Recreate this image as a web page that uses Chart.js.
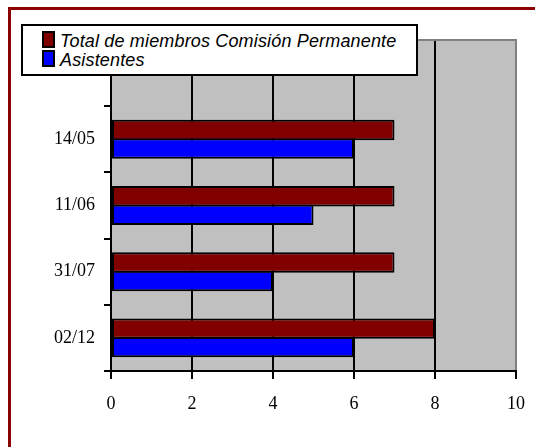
<!DOCTYPE html>
<html>
<head>
<meta charset="utf-8">
<script src="https://cdn.jsdelivr.net/npm/chart.js@4"></script>
<style>
  html, body { margin: 0; padding: 0; background: #fff; overflow: hidden; }
  #wrap { position: relative; width: 535px; height: 447px; }
  #frame { position: absolute; left: 8px; top: 7px; width: 600px; height: 500px;
           border-top: 3px solid #8b0000; border-left: 3px solid #8b0000; }
  #chartCanvas { position: absolute; left: 0; top: 0; }
  #legend { position: absolute; left: 21px; top: 24px; width: 397px; height: 52px;
            box-sizing: border-box; border: 2px solid #000; background: #fff;
            font: italic 18px "Liberation Sans", Arial, sans-serif; color: #000; letter-spacing: 0.16px; }
  .sw { position: absolute; left: 19px; width: 13px; height: 17px; box-sizing: border-box; border: 2px solid #000; }
  .lb { position: absolute; left: 37px; line-height: 18px; white-space: nowrap; }
</style>
</head>
<body>
<div id="wrap">
  <div id="frame"></div>
  <canvas id="chartCanvas" width="535" height="447"></canvas>
  <div id="legend"></div>
</div>
<script>
const categories = ['', '14/05', '11/06', '31/07', '02/12'];
const totalMiembros = [null, 7, 7, 7, 8];
const asistentes = [null, 6, 5, 4, 6];
const seriesNames = ['Total de miembros Comisión Permanente', 'Asistentes'];
const seriesColors = ['#800000', '#0000ff'];
const xTicks = [0, 2, 4, 6, 8, 10];

const serif = { family: '"Liberation Serif", "Times New Roman", serif', size: 18 };

// gray plot background + gray top edge
const plotBack = {
    id: 'plotBack',
    beforeDraw(chart) {
        const a = chart.chartArea, c = chart.ctx;
        c.save();
        c.fillStyle = '#c0c0c0';
        c.fillRect(a.left, a.top, a.right - a.left, a.bottom - a.top);
        c.restore();
    },
    afterDraw(chart) {
        const a = chart.chartArea, c = chart.ctx;
        c.save();
        c.strokeStyle = '#808080';
        c.lineWidth = 2;
        c.beginPath();
        c.moveTo(a.left, a.top);
        c.lineTo(a.right + 1, a.top);
        c.stroke();
        c.restore();
    }
};

const ctx = document.getElementById('chartCanvas');
window.myChart = new Chart(ctx, {
    type: 'bar',
    data: {
        labels: categories,
        datasets: [{
            label: seriesNames[0],
            data: totalMiembros,
            backgroundColor: seriesColors[0],
            borderColor: '#000',
            borderWidth: 2,
            borderSkipped: false,
            categoryPercentage: 0.56,
            barPercentage: 1.1
        }, {
            label: seriesNames[1],
            data: asistentes,
            backgroundColor: seriesColors[1],
            borderColor: '#000',
            borderWidth: 2,
            borderSkipped: false,
            categoryPercentage: 0.56,
            barPercentage: 1.1
        }]
    },
    options: {
        indexAxis: 'y',
        responsive: false,
        animation: false,
        layout: { padding: { top: 40, right: 19, left: 0, bottom: 0 } },
        plugins: { legend: { display: false }, tooltip: { enabled: false } },
        scales: {
            x: {
                type: 'linear',
                min: 0,
                max: 10,
                afterBuildTicks: scale => { scale.ticks = xTicks.map(v => ({ value: v })); },
                afterFit: scale => {
                    scale.height = 76;
                    scale.paddingLeft = 0;
                    scale.paddingRight = 0;
                },
                ticks: { font: serif, color: '#000', padding: 14, maxRotation: 0 },
                grid: {
                    color: c => (c.tick && c.tick.value === 10 ? '#808080' : '#000'),
                    tickColor: '#000',
                    lineWidth: 2,
                    tickLength: 8
                },
                border: { color: '#000', width: 2 }
            },
            y: {
                type: 'category',
                offset: true,
                afterFit: scale => { scale.width = 111; },
                ticks: { font: serif, color: '#000', padding: 9 },
                grid: { drawOnChartArea: false, offset: true, color: '#000', lineWidth: 2, tickLength: 7 },
                border: { color: '#000', width: 2 }
            }
        }
    },
    plugins: [plotBack]
});

// legend box built from the series names
const legend = document.getElementById('legend');
seriesNames.forEach((name, i) => {
    const sw = document.createElement('div');
    sw.className = 'sw';
    sw.style.top = (5 + i * 19) + 'px';
    sw.style.background = seriesColors[i];
    legend.appendChild(sw);
    const lb = document.createElement('div');
    lb.className = 'lb';
    lb.style.top = (6 + i * 19) + 'px';
    lb.textContent = name;
    legend.appendChild(lb);
});
</script>
</body>
</html>
